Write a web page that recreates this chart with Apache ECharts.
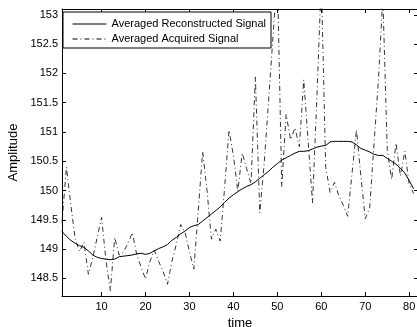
<!DOCTYPE html>
<html>
<head>
<meta charset="utf-8">
<script src="https://cdn.jsdelivr.net/npm/echarts@6/dist/echarts.min.js"></script>
<style>
html,body{margin:0;padding:0;background:#fff;}
#chart{width:417px;height:327px;}
</style>
</head>
<body>
<div id="chart"></div>
<script>
const time = [1,2,3,4,5,6,7,8,9,10,11,12,13,14,15,16,17,18,19,20,21,22,23,24,25,26,27,28,29,30,31,32,33,34,35,36,37,38,39,40,41,42,43,44,45,46,47,48,49,50,51,52,53,54,55,56,57,58,59,60,61,62,63,64,65,66,67,68,69,70,71,72,73,74,75,76,77,78,79,80,81];
const reconstructed = [149.30,149.22,149.15,149.10,149.06,149.03,148.97,148.90,148.86,148.84,148.83,148.82,148.83,148.87,148.88,148.89,148.90,148.92,148.93,148.91,148.93,148.97,149.01,149.04,149.08,149.15,149.20,149.26,149.31,149.37,149.40,149.42,149.48,149.54,149.60,149.66,149.72,149.80,149.87,149.93,149.98,150.03,150.07,150.10,150.15,150.21,150.27,150.33,150.40,150.46,150.52,150.56,150.60,150.64,150.67,150.67,150.68,150.71,150.74,150.76,150.77,150.83,150.84,150.84,150.84,150.84,150.83,150.78,150.72,150.69,150.66,150.62,150.60,150.60,150.55,150.50,150.45,150.38,150.30,150.17,150.03];
const acquired = [149.45,150.40,149.76,149.17,148.96,149.12,148.57,148.85,149.20,149.54,148.81,148.29,149.20,148.90,148.95,149.10,149.28,148.91,148.69,148.49,148.79,148.98,148.79,148.62,148.40,148.79,149.08,149.42,149.29,148.95,148.66,149.65,150.67,150.00,149.17,149.34,149.14,150.05,151.03,150.60,149.99,150.64,150.38,150.12,151.94,149.62,150.46,151.53,152.62,153.70,150.07,151.30,150.87,151.07,150.75,151.89,150.85,149.79,151.60,153.60,150.40,149.97,150.14,149.91,149.75,149.56,150.30,151.04,150.25,149.52,149.70,150.80,151.90,153.30,150.70,150.19,150.81,150.25,150.67,150.10,149.95];
const xTicks = [10,20,30,40,50,60,70,80];
const yTicks = [148.5,149,149.5,150,150.5,151,151.5,152,152.5,153];
const seriesNames = ['Averaged Reconstructed Signal','Averaged Acquired Signal'];

const font = 'Liberation Sans, Arial, Helvetica, sans-serif';
const chart = echarts.init(document.getElementById('chart'), null, {renderer:'canvas'});
const pairs = (ys) => time.map((t,i)=>[t, ys[i]]);

const xBase = {
  type:'value', min:1, max:82,
  splitLine:{show:false},
  axisLine:{show:true, onZero:false, lineStyle:{color:'#000', width:1}},
  axisTick:{show:true, inside:true, length:4, customValues:xTicks, lineStyle:{color:'#000'}},
};
const yBase = {
  type:'value', min:148.2, max:153.1,
  splitLine:{show:false},
  axisLine:{show:true, onZero:false, lineStyle:{color:'#000', width:1}},
  axisTick:{show:true, inside:true, length:4, customValues:yTicks, lineStyle:{color:'#000'}},
};

chart.setOption({
  animation:false,
  backgroundColor:'#fff',
  grid:{left:62, top:9, width:356, height:287, show:false, outerBoundsMode:'none', containLabel:false},
  legend:{
    show:true,
    left:63, top:12, orient:'vertical',
    backgroundColor:'#fff', borderColor:'#000', borderWidth:1, borderRadius:0,
    padding:[6,5,3,9], itemGap:3, itemWidth:34, itemHeight:12,
    itemStyle:{opacity:0},
    lineStyle:{width:1, color:'#000'},
    textStyle:{fontFamily:font, fontSize:11, color:'#000', lineHeight:12},
    data:seriesNames
  },
  xAxis:[
    Object.assign({}, xBase, {position:'bottom',
      name:'time', nameLocation:'middle', nameGap:18,
      nameTextStyle:{fontFamily:font, fontSize:13, color:'#000'},
      axisLabel:{show:true, customValues:xTicks, margin:5, fontFamily:font, fontSize:11, color:'#000'}}),
    Object.assign({}, xBase, {position:'top', axisLabel:{show:false}})
  ],
  yAxis:[
    Object.assign({}, yBase, {position:'left',
      name:'Amplitude', nameLocation:'middle', nameGap:33, nameRotate:90,
      nameTextStyle:{fontFamily:font, fontSize:13, color:'#000'},
      axisLabel:{show:true, customValues:yTicks, margin:4, fontFamily:font, fontSize:11, color:'#000',
        formatter:(v)=>String(Math.round(v*10)/10)}}),
    Object.assign({}, yBase, {position:'right', axisLabel:{show:false}})
  ],
  series:[
    {name:seriesNames[0], type:'line', data:pairs(reconstructed), symbol:'none', clip:true,
      lineStyle:{color:'#000', width:1}, itemStyle:{color:'#000'}, z:3},
    {name:seriesNames[1], type:'line', data:pairs(acquired), symbol:'none', clip:true,
      lineStyle:{color:'#000', width:0.8, type:[5,3,1,3]}, itemStyle:{color:'#000'}, z:2}
  ]
});
</script>
</body>
</html>
